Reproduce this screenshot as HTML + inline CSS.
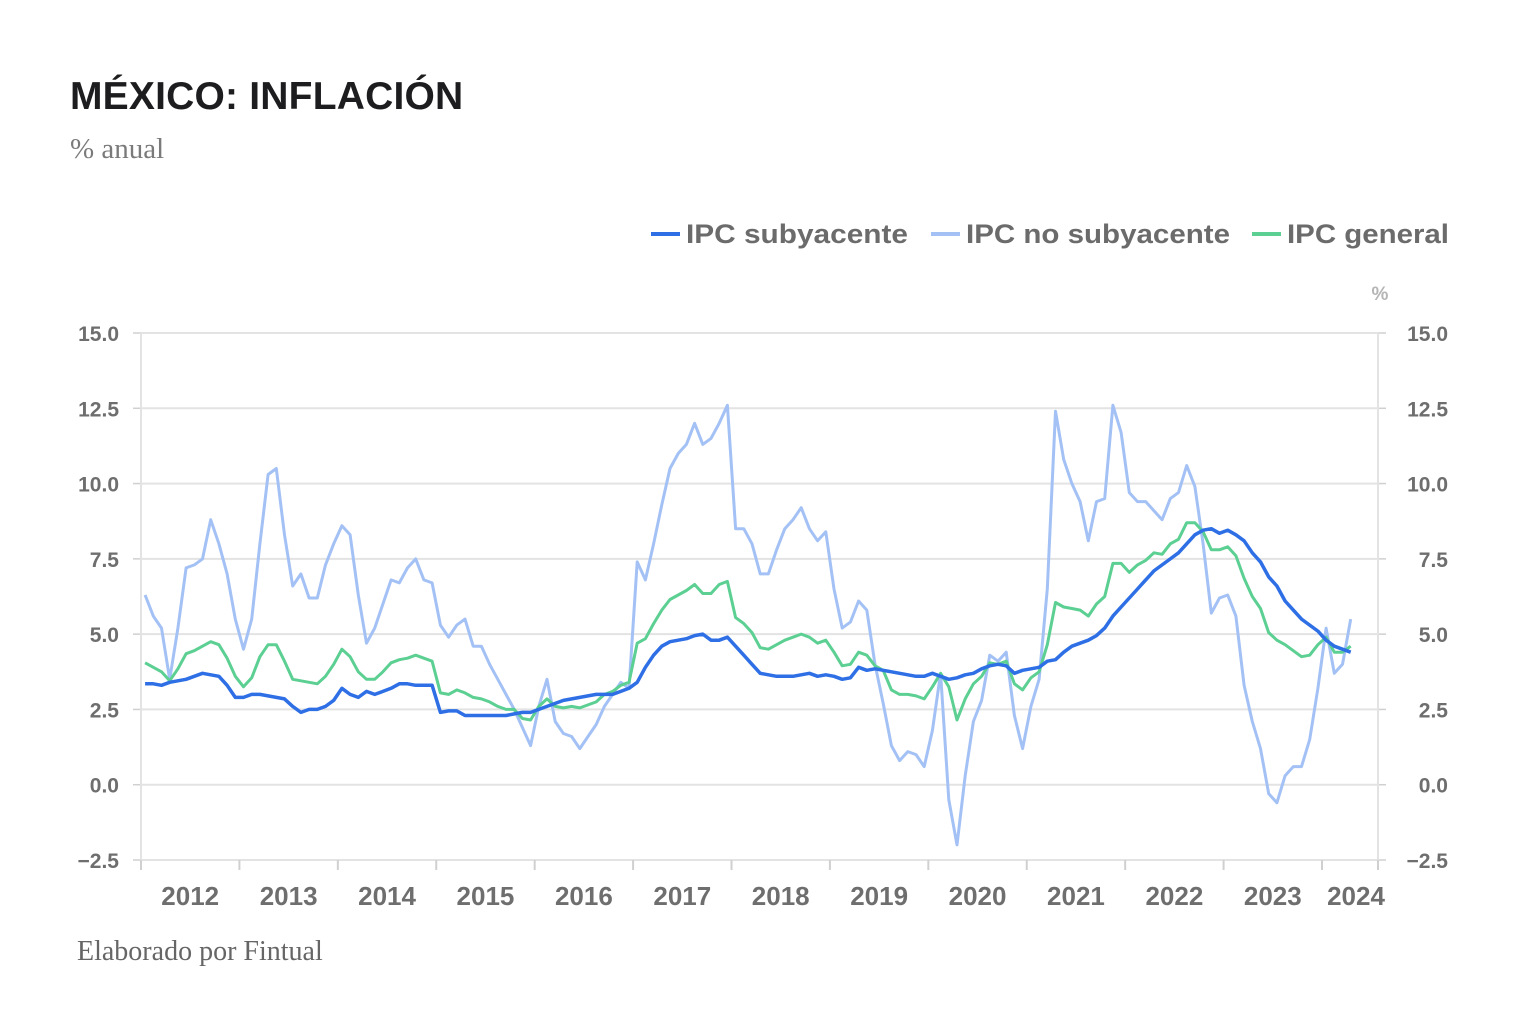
<!DOCTYPE html>
<html><head><meta charset="utf-8">
<style>
html,body{margin:0;padding:0;background:#fff;}
body{width:1532px;height:1032px;overflow:hidden;position:relative;font-family:"Liberation Sans",sans-serif;}
#title{position:absolute;left:70px;top:75px;font-size:39px;font-weight:bold;color:#1d1d1f;letter-spacing:0.2px;}
#subtitle{position:absolute;left:70px;top:133px;font-family:"Liberation Serif",serif;font-size:29px;color:#7a7a7a;}
#source{position:absolute;left:77px;top:936px;font-family:"Liberation Serif",serif;font-size:28px;color:#666;}
svg{position:absolute;left:0;top:0;}
</style></head>
<body>
<div id="title">MÉXICO: INFLACIÓN</div>
<div id="subtitle">% anual</div>
<div id="source">Elaborado por Fintual</div>
<svg id="chart" width="1532" height="1032"></svg>
<script>
const years = ["2012","2013","2014","2015","2016","2017","2018","2019","2020","2021","2022","2023","2024"];
const yTicks = [-2.5,0,2.5,5,7.5,10,12.5,15];
const yTickLabels = ["\u22122.5","0.0","2.5","5.0","7.5","10.0","12.5","15.0"];
const core = [3.35,3.35,3.3,3.4,3.45,3.5,3.6,3.7,3.65,3.6,3.3,2.9,
2.9,3.0,3.0,2.95,2.9,2.85,2.6,2.4,2.5,2.5,2.6,2.8,
3.2,3.0,2.9,3.1,3.0,3.1,3.2,3.35,3.35,3.3,3.3,3.3,
2.4,2.45,2.45,2.3,2.3,2.3,2.3,2.3,2.3,2.35,2.4,2.4,
2.5,2.6,2.7,2.8,2.85,2.9,2.95,3.0,3.0,3.0,3.1,3.2,
3.4,3.9,4.3,4.6,4.75,4.8,4.85,4.95,5.0,4.8,4.8,4.9,
4.6,4.3,4.0,3.7,3.65,3.6,3.6,3.6,3.65,3.7,3.6,3.65,
3.6,3.5,3.55,3.9,3.8,3.85,3.8,3.75,3.7,3.65,3.6,3.6,
3.7,3.6,3.5,3.55,3.65,3.7,3.85,3.95,4.0,3.95,3.7,3.8,
3.85,3.9,4.1,4.15,4.4,4.6,4.7,4.8,4.95,5.2,5.6,5.9,
6.2,6.5,6.8,7.1,7.3,7.5,7.7,8.0,8.3,8.45,8.5,8.35,
8.45,8.3,8.1,7.7,7.4,6.9,6.6,6.1,5.8,5.5,5.3,5.1,
4.8,4.6,4.5,4.4];
const noncore = [6.3,5.6,5.2,3.5,5.2,7.2,7.3,7.5,8.8,8.0,7.0,5.5,
4.5,5.5,8.0,10.3,10.5,8.3,6.6,7.0,6.2,6.2,7.3,8.0,
8.6,8.3,6.3,4.7,5.2,6.0,6.8,6.7,7.2,7.5,6.8,6.7,
5.3,4.9,5.3,5.5,4.6,4.6,4.0,3.5,3.0,2.5,1.9,1.3,
2.6,3.5,2.1,1.7,1.6,1.2,1.6,2.0,2.6,3.0,3.4,3.2,
7.4,6.8,8.0,9.3,10.5,11.0,11.3,12.0,11.3,11.5,12.0,12.6,
8.5,8.5,8.0,7.0,7.0,7.8,8.5,8.8,9.2,8.5,8.1,8.4,
6.5,5.2,5.4,6.1,5.8,4.0,2.7,1.3,0.8,1.1,1.0,0.6,
1.8,3.7,-0.5,-2.0,0.3,2.1,2.8,4.3,4.1,4.4,2.3,1.2,
2.6,3.5,6.5,12.4,10.8,10.0,9.4,8.1,9.4,9.5,12.6,11.7,
9.7,9.4,9.4,9.1,8.8,9.5,9.7,10.6,9.9,8.0,5.7,6.2,
6.3,5.6,3.3,2.1,1.2,-0.3,-0.6,0.3,0.6,0.6,1.5,3.2,
5.2,3.7,4.0,5.5];
const headline = [4.05,3.9,3.75,3.45,3.85,4.35,4.45,4.6,4.75,4.65,4.2,3.6,
3.25,3.55,4.25,4.65,4.65,4.1,3.5,3.45,3.4,3.35,3.6,4.0,
4.5,4.25,3.75,3.5,3.5,3.75,4.05,4.15,4.2,4.3,4.2,4.1,
3.05,3.0,3.15,3.05,2.9,2.85,2.75,2.6,2.5,2.5,2.2,2.15,
2.6,2.85,2.6,2.55,2.6,2.55,2.65,2.75,3.0,3.1,3.3,3.4,
4.7,4.85,5.35,5.8,6.15,6.3,6.45,6.65,6.35,6.35,6.65,6.75,
5.55,5.35,5.05,4.55,4.5,4.65,4.8,4.9,5.0,4.9,4.7,4.8,
4.4,3.95,4.0,4.4,4.3,3.95,3.8,3.15,3.0,3.0,2.95,2.85,
3.25,3.7,3.25,2.15,2.85,3.35,3.6,4.05,4.0,4.1,3.35,3.15,
3.55,3.75,4.65,6.05,5.9,5.85,5.8,5.6,6.0,6.25,7.35,7.35,
7.05,7.3,7.45,7.7,7.65,8.0,8.15,8.7,8.7,8.4,7.8,7.8,
7.9,7.6,6.85,6.25,5.85,5.05,4.8,4.65,4.45,4.25,4.3,4.65,
4.9,4.4,4.4,4.6];

const NS = "http://www.w3.org/2000/svg";
const svg = document.getElementById('chart');
const X0 = 141, X1 = 1378, Y0 = 860, Y1 = 333;
const monthW = (1322 - X0) / 144;
const yMin = -2.5, yMax = 15;
function xScale(i){ return X0 + (i + 0.5) * monthW; }
function yScale(v){ return Y0 - (v - yMin) / (yMax - yMin) * (Y0 - Y1); }
function mk(tag, attrs){ const e = document.createElementNS(NS, tag); for (const k in attrs) e.setAttribute(k, attrs[k]); svg.appendChild(e); return e; }

yTicks.forEach((t, k) => {
  const y = yScale(t);
  const g = mk('line', {x1: X0, x2: X1, y1: y, y2: y, stroke: '#e3e3e3', 'stroke-width': 2});
  
  
  mk('line', {x1: X0 - 8, x2: X0, y1: y, y2: y, stroke: '#d0d0d0', 'stroke-width': 1.5});
  mk('line', {x1: X1, x2: X1 + 8, y1: y, y2: y, stroke: '#d0d0d0', 'stroke-width': 1.5});
  const l = mk('text', {x: 119, y: y + 8, 'text-anchor': 'end', 'font-size': 21, 'font-weight': 'bold', fill: '#6e6e6e'});
  l.textContent = yTickLabels[k];
  
  
  const r = mk('text', {x: 1448, y: y + 8, 'text-anchor': 'end', 'font-size': 21, 'font-weight': 'bold', fill: '#6e6e6e'});
  r.textContent = yTickLabels[k];
  
  
});
mk('line', {x1: X0, x2: X0, y1: Y1, y2: Y0, stroke: '#e3e3e3', 'stroke-width': 2});
mk('line', {x1: X1, x2: X1, y1: Y1, y2: Y0, stroke: '#e3e3e3', 'stroke-width': 2});
const pu = mk('text', {x: 1380, y: 300, 'text-anchor': 'middle', 'font-size': 19, 'font-weight': 'bold', fill: '#b5b5b5'});
pu.textContent = '%';



years.forEach((yr, k) => {
  const xs = X0 + k * 12 * monthW;
  mk('line', {x1: xs, x2: xs, y1: Y0, y2: Y0 + 10, stroke: '#d0d0d0', 'stroke-width': 2});
  const xe = Math.min(X0 + (k + 1) * 12 * monthW, X1);
  const cx = k === years.length - 1 ? (xs + xe) / 2 + 6 : (xs + xe) / 2;
  const t = mk('text', {x: cx, y: 905, 'text-anchor': 'middle', 'font-size': 26, 'font-weight': 'bold', fill: '#6e6e6e'});
  t.textContent = yr;
  
  
});
mk('line', {x1: X1, x2: X1, y1: Y0, y2: Y0 + 10, stroke: '#d0d0d0', 'stroke-width': 2});

function drawLine(vals, color, w, name){
  const d = vals.map((v, i) => (i ? 'L' : 'M') + xScale(i).toFixed(1) + ' ' + yScale(v).toFixed(1)).join(' ');
  const p = mk('path', {d: d, fill: 'none', stroke: color, 'stroke-width': w, 'stroke-linejoin': 'round'});
  
  
}
drawLine(noncore, '#a3c1f5', 3, 'line-ipc-no-subyacente');
drawLine(headline, '#5ccf92', 3, 'line-ipc-general');
drawLine(core, '#2e6fe6', 3.5, 'line-ipc-subyacente');

const legend = [["IPC subyacente", '#2e6fe6', 651, 222], ["IPC no subyacente", '#a3c1f5', 931, 264], ["IPC general", '#5ccf92', 1252, 162]];
legend.forEach(([label, c, x, w]) => {
  const sw = mk('line', {x1: x, x2: x + 29, y1: 234, y2: 234, stroke: c, 'stroke-width': 4});
  
  
  const t = mk('text', {x: x + 35, y: 243, 'font-size': 27, 'font-weight': 'bold', fill: '#6b6b6b', textLength: w, lengthAdjust: 'spacingAndGlyphs'});
  t.textContent = label;
  
  
});
</script>
</body></html>
